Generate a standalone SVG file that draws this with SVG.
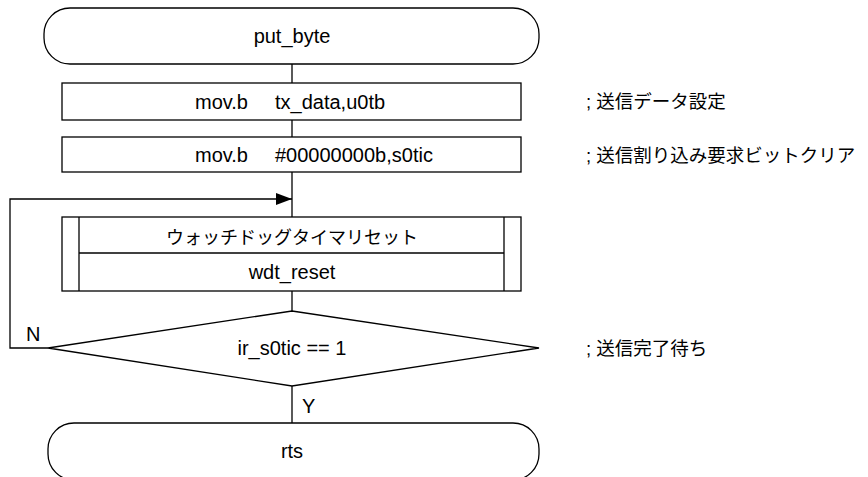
<svg xmlns="http://www.w3.org/2000/svg" width="868" height="477" viewBox="0 0 868 477">
<style>
.s{fill:#fff;stroke:#000;stroke-width:1.3}
.l{fill:none;stroke:#000;stroke-width:1.3}
text{font-family:"Liberation Sans","Noto Sans CJK JP",sans-serif;font-size:20px;fill:#000}
.c{text-anchor:middle}
.j{font-size:18px}
.k{font-size:18.5px}
</style>
<defs>
<marker id="ah" markerWidth="16" markerHeight="12" refX="16" refY="6" orient="auto" markerUnits="userSpaceOnUse">
<path d="M0,0 L16,6 L0,12 Z" fill="#000"/>
</marker>
</defs>
<g id="connectors">
<line class="l" x1="292" y1="64" x2="292" y2="83"/>
<line class="l" x1="292" y1="120" x2="292" y2="137"/>
<line class="l" x1="292" y1="172" x2="292" y2="217"/>
<line class="l" x1="292" y1="291" x2="292" y2="311"/>
<line class="l" x1="292" y1="386" x2="292" y2="423"/>
<polyline class="l" points="48,348 10,348 10,199 292,199" marker-end="url(#ah)"/>
<text x="26" y="341">N</text>
<text x="302" y="413">Y</text>
</g>
<g id="start">
<rect class="s" x="44" y="8" width="495" height="56" rx="26" ry="26"/>
<text class="c" x="292" y="43">put_byte</text>
</g>
<g id="mov1">
<rect class="s" x="62" y="83" width="459" height="37"/>
<text x="195" y="109">mov.b</text>
<text x="275" y="109">tx_data,u0tb</text>
</g>
<g id="mov2">
<rect class="s" x="62" y="137" width="459" height="35"/>
<text x="195" y="162">mov.b</text>
<text x="275" y="162">#00000000b,s0tic</text>
</g>
<g id="wdt">
<rect class="s" x="62" y="217" width="459" height="74"/>
<line class="l" x1="79" y1="217" x2="79" y2="291"/>
<line class="l" x1="504" y1="217" x2="504" y2="291"/>
<line class="l" x1="79" y1="253" x2="504" y2="253"/>
<text class="c j" x="292" y="244">ウォッチドッグタイマリセット</text>
<text class="c" x="292" y="279">wdt_reset</text>
</g>
<g id="cond">
<polygon class="s" points="292,311 539,348 292,386 48,348"/>
<text class="c" x="292" y="355">ir_s0tic == 1</text>
</g>
<g id="end">
<rect class="s" x="48" y="423" width="491" height="57" rx="26" ry="26"/>
<text class="c" x="292" y="458">rts</text>
</g>
<g id="comments">
<text class="k" x="586" y="108">; 送信データ設定</text>
<text class="k" x="586" y="162">; 送信割り込み要求ビットクリア</text>
<text class="k" x="586" y="355">; 送信完了待ち</text>
</g>
</svg>
